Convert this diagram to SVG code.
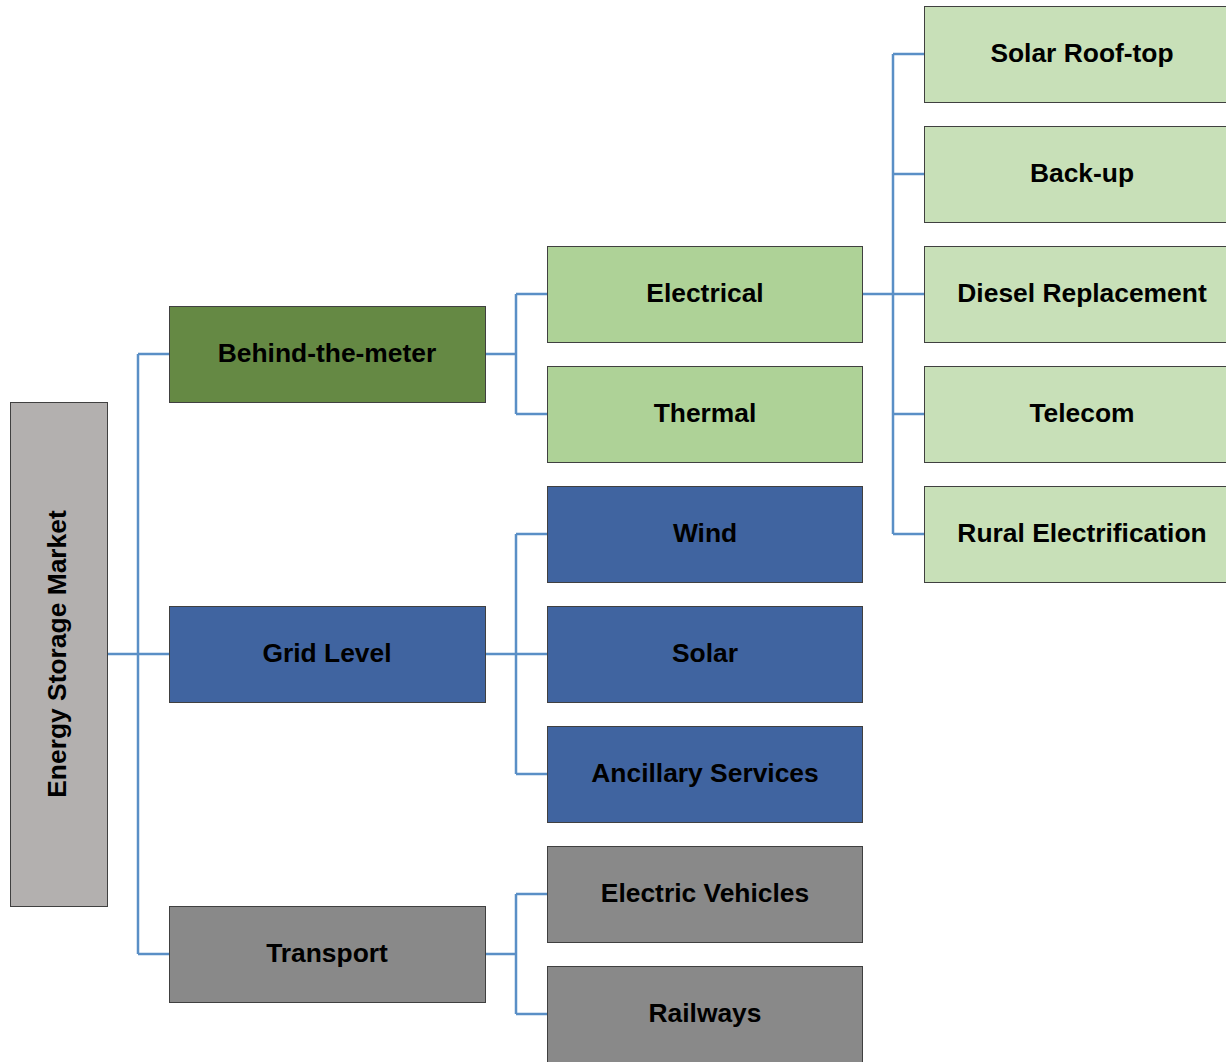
<svg xmlns="http://www.w3.org/2000/svg" width="1226" height="1062" viewBox="0 0 1226 1062">
<style>
.n{stroke:#404040;stroke-width:1}
.t{font-family:"Liberation Sans",Arial,sans-serif;font-weight:bold;font-size:26.4px;fill:#000;text-anchor:middle;dominant-baseline:central}
.c{fill:none;stroke:#5a8fc6;stroke-width:2.5}
.root{fill:#b3b0af}.dg{fill:#658944}.lg{fill:#aed297}.xg{fill:#c8e0b8}.bl{fill:#4064a0}.gr{fill:#898989}
</style>
<rect width="1226" height="1062" fill="#fff"/>
<g id="connectors">
<path class="c" d="M107 654H138M138 354V954M138 354H169M138 654H169M138 954H169"/>
<path class="c" d="M485 354H516M516 294V414M516 294H547M516 414H547"/>
<path class="c" d="M485 654H516M516 534V774M516 534H547M516 654H547M516 774H547"/>
<path class="c" d="M485 954H516M516 894V1014M516 894H547M516 1014H547"/>
<path class="c" d="M862 294H893M893 54V534M893 54H924M893 174H924M893 294H924M893 414H924M893 534H924"/>
</g>
<g id="root"><rect class="n root" x="10.5" y="402.5" width="97" height="504"/><text class="t" transform="translate(57 654) rotate(-90)">Energy Storage Market</text></g>
<g id="behind"><rect class="n dg" x="169.5" y="306.5" width="316" height="96"/><text class="t" x="327" y="353">Behind-the-meter</text></g>
<g id="grid"><rect class="n bl" x="169.5" y="606.5" width="316" height="96"/><text class="t" x="327" y="653">Grid Level</text></g>
<g id="transport"><rect class="n gr" x="169.5" y="906.5" width="316" height="96"/><text class="t" x="327" y="953">Transport</text></g>
<g id="electrical"><rect class="n lg" x="547.5" y="246.5" width="315" height="96"/><text class="t" x="705" y="293">Electrical</text></g>
<g id="thermal"><rect class="n lg" x="547.5" y="366.5" width="315" height="96"/><text class="t" x="705" y="413">Thermal</text></g>
<g id="wind"><rect class="n bl" x="547.5" y="486.5" width="315" height="96"/><text class="t" x="705" y="533">Wind</text></g>
<g id="solar"><rect class="n bl" x="547.5" y="606.5" width="315" height="96"/><text class="t" x="705" y="653">Solar</text></g>
<g id="ancillary"><rect class="n bl" x="547.5" y="726.5" width="315" height="96"/><text class="t" x="705" y="773">Ancillary Services</text></g>
<g id="ev"><rect class="n gr" x="547.5" y="846.5" width="315" height="96"/><text class="t" x="705" y="893">Electric Vehicles</text></g>
<g id="railways"><rect class="n gr" x="547.5" y="966.5" width="315" height="96"/><text class="t" x="705" y="1013">Railways</text></g>
<g id="rooftop"><rect class="n xg" x="924.5" y="6.5" width="320" height="96"/><text class="t" x="1082" y="53">Solar Roof-top</text></g>
<g id="backup"><rect class="n xg" x="924.5" y="126.5" width="320" height="96"/><text class="t" x="1082" y="173">Back-up</text></g>
<g id="diesel"><rect class="n xg" x="924.5" y="246.5" width="320" height="96"/><text class="t" x="1082" y="293">Diesel Replacement</text></g>
<g id="telecom"><rect class="n xg" x="924.5" y="366.5" width="320" height="96"/><text class="t" x="1082" y="413">Telecom</text></g>
<g id="rural"><rect class="n xg" x="924.5" y="486.5" width="320" height="96"/><text class="t" x="1082" y="533">Rural Electrification</text></g>
</svg>
